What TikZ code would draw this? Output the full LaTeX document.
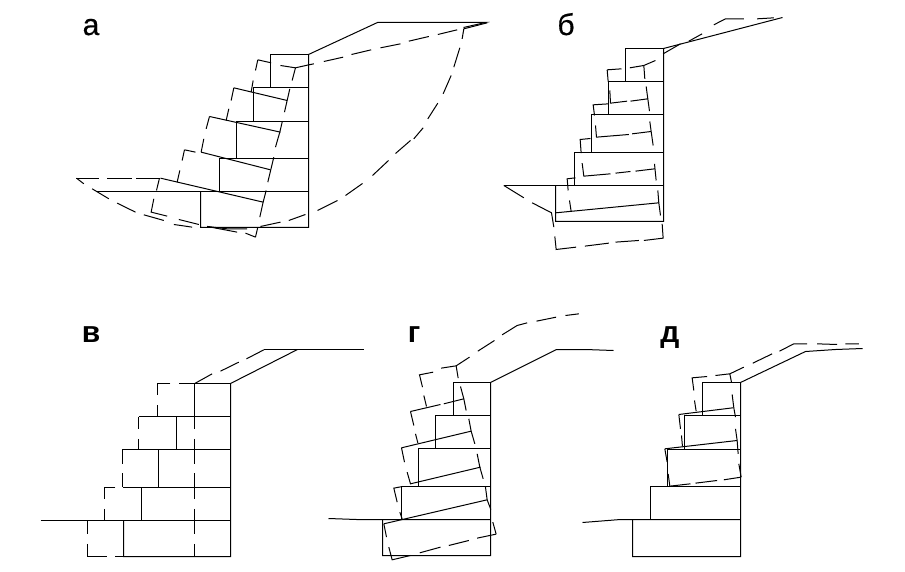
\documentclass[tikz,border=0pt]{standalone}
\usepackage{fontspec}
\setmainfont{Liberation Sans}
\newfontfamily\labelfont[FakeBold=0.5]{Liberation Sans}
\begin{document}
\begin{tikzpicture}[x=1pt,y=-1pt,
  solidline/.style={line width=1pt,black,line join=miter},
  dashline/.style={line width=1pt,black,line join=miter},
  panellabel/.style={font=\fontsize{30}{32}\selectfont\labelfont,text=black,inner sep=0pt,anchor=base},
  boldlabel/.style={font=\fontsize{30}{32}\selectfont\bfseries,text=black,inner sep=0pt,anchor=base}]
\useasboundingbox (0,0) rectangle (905,572);
\fill[white] (0,0) rectangle (905,572);
% labels
\node[panellabel] (la) at (91,35) {а};
\node[panellabel] (lb) at (566,35) {б};
\node[boldlabel] (lc) at (91,342) {в};
\node[boldlabel] (ld) at (414,342) {г};
\node[boldlabel] (le) at (670,342) {д};
\begin{scope}[shift={(0.5,0.5)}]
% panel a solid
\draw[solidline] (463,27)--(485,22)--(377,22)--(308,54)--(308,227)--(200,227)--(200,191);
\draw[solidline] (96,191)--(308,191);
\draw[solidline] (270,87)--(270,54)--(308,54);
\draw[solidline] (253,121)--(253,87)--(308,87);
\draw[solidline] (236,158)--(236,121)--(308,121);
\draw[solidline] (219,191)--(219,158)--(308,158);
% panel a dashed
\begin{scope}[shift={(60,10)},x=0.3333pt,y=-0.3333pt]
\draw[dashline] (48,503)--(115,503) (140,503)--(215,503) (228,503)--(300,503);
\draw[dashline] (48,503)--(70,520) (95,535)--(145,565) (170,578)--(225,605) (250,613)--(310,630) (340,642)--(395,650) (440,648)--(500,655)--(560,655) (600,648)--(660,635) (685,630)--(735,612);
\draw[dashline] (705,172)--(695,210) (688,235)--(672,305) (665,335)--(658,365)--(645,410) (640,440)--(622,515) (617,540)--(608,575)--(598,620) (592,650)--(585,680);
\draw[dashline] (592,148)--(585,180) (578,210)--(572,245) (592,148)--(632,157) (660,165)--(705,172)--(745,163);
\draw[dashline] (520,232)--(680,270) (520,232)--(512,270) (505,295)--(497,330);
\draw[dashline] (447,318)--(660,365) (447,318)--(437,355) (430,385)--(422,425);
\draw[dashline] (422,425)--(630,478) (372,418)--(405,425) (372,418)--(365,450) (358,480)--(350,515);
\draw[dashline] (300,503)--(608,575) (297,503)--(288,540) (280,565)--(272,605)--(320,617) (355,627)--(415,642) (440,648)--(530,665) (555,668)--(585,680);
\end{scope}
\begin{scope}[shift={(290,10)},x=0.3333pt,y=-0.3333pt]
\draw[dashline] (55,163)--(70,160) (100,153)--(158,140) (183,132)--(242,118) (270,112)--(330,100) (355,92)--(415,78) (442,72)--(500,58);
\draw[dashline] (370,385)--(398,352) (412,325)--(442,278) (458,250)--(482,195) (490,170)--(508,112) (515,85)--(520,55)--(590,37);
\end{scope}
\draw[dashline] (317,210)--(337,200) (345,195)--(362,183) (372,175)--(388,160) (395,153)--(410,140);
% panel b solid
\draw[solidline] (782,17)--(663,48)--(663,221)--(555,221)--(555,185);
\draw[solidline] (503,185)--(663,185);
\draw[solidline] (625,81)--(625,48)--(663,48);
\draw[solidline] (608,114)--(608,81)--(663,81);
\draw[solidline] (591,152)--(591,114)--(663,114);
\draw[solidline] (574,185)--(574,152)--(663,152);
% panel b dashed
\begin{scope}[shift={(495,10)},x=0.3333pt,y=-0.3333pt]
\draw[dashline] (503,130)--(555,100) (580,92)--(620,70) (655,43)--(690,25)--(745,25) (785,25)--(835,22);
\draw[dashline] (25,525)--(85,562) (110,577)--(168,607)--(175,650) (178,678)--(182,717)--(242,710) (268,707)--(340,698) (360,695)--(430,690) (445,690)--(503,683)--(500,640);
\draw[dashline] (181,607)--(490,577) (487,540)--(490,577)--(495,615) (477,460)--(482,510) (463,333)--(467,363)--(473,405) (452,228)--(457,265)--(462,302) (445,165)--(448,205);
\draw[dashline] (335,178)--(378,175) (403,172)--(445,165)--(480,150) (338,213)--(335,178) (343,240)--(345,278)--(395,272) (405,272)--(457,265);
\draw[dashline] (340,280)--(293,283)--(297,315) (300,345)--(303,380)--(400,372) (410,370)--(467,363);
\draw[dashline] (285,384)--(254,387)--(257,428) (260,458)--(265,497)--(345,490) (360,488)--(405,483) (420,482)--(478,475);
\draw[dashline] (240,502)--(215,505)--(218,540) (222,570)--(227,603);
\end{scope}
% panel c solid
\draw[solidline] (363,349)--(263,349);
\draw[solidline] (297,349)--(230,383)--(230,556)--(123,556)--(123,520);
\draw[solidline] (40,520)--(230,520);
\draw[solidline] (194,416)--(194,383)--(230,383);
\draw[solidline] (176,449)--(176,416)--(230,416);
\draw[solidline] (158,487)--(158,449)--(230,449);
\draw[solidline] (141,520)--(141,487)--(230,487);
\draw[solidline] (138,416)--(176,416);
\draw[solidline] (122,449)--(158,449);
\draw[solidline] (122,487)--(158,487);
% panel c dashed
\begin{scope}[shift={(30,320)},x=0.3333pt,y=-0.3333pt]
\draw[dashline] (491,190)--(545,160) (570,152)--(625,125) (648,115)--(700,88);
\draw[dashline] (420,190)--(380,190)--(380,225) (380,255)--(380,289) (447,190)--(491,190);
\draw[dashline] (325,289)--(325,325) (325,355)--(325,387);
\draw[dashline] (275,387)--(275,430) (275,458)--(275,501);
\draw[dashline] (255,501)--(223,501)--(223,535) (223,565)--(223,601);
\draw[dashline] (170,601)--(170,640) (170,670)--(170,709)--(230,709) (255,709)--(280,709);
\draw[dashline] (491,289)--(491,325) (491,355)--(491,430) (491,458)--(491,535) (491,565)--(491,640) (491,670)--(491,709);
\end{scope}
% panel d solid
\draw[solidline] (613,350)--(585,349)--(556,349)--(490,382)--(490,555)--(382,555)--(382,519);
\draw[solidline] (328,518)--(356,519)--(490,519);
\draw[solidline] (453,415)--(453,382)--(490,382);
\draw[solidline] (435,448)--(435,415)--(490,415);
\draw[solidline] (418,486)--(418,448)--(490,448);
\draw[solidline] (401,519)--(401,486)--(490,486);
% panel d dashed
\begin{scope}[shift={(320,305)},x=0.3333pt,y=-0.3333pt]
\draw[dashline] (407,181)--(447,155) (472,137)--(522,105) (545,88)--(590,60)--(620,52) (648,47)--(707,35) (735,30)--(775,25);
\draw[dashline] (338,200)--(297,208)--(306,245) (310,270)--(318,303) (362,188)--(407,181)--(413,218);
\draw[dashline] (420,243)--(430,280)--(437,315) (445,340)--(452,377)--(463,415) (470,445)--(478,485)--(488,520) (495,545)--(500,583)--(511,612) (517,650)--(527,686);
\draw[dashline] (270,318)--(360,297) (370,295)--(430,280) (270,318)--(280,360) (285,385)--(292,412);
\draw[dashline] (243,427)--(452,377) (243,427)--(252,470) (260,500)--(270,535)--(480,485);
\draw[dashline] (246,543)--(220,548)--(230,590) (238,620)--(246,643);
\draw[dashline] (190,655)--(500,583) (190,655)--(198,695) (205,725)--(215,763)--(270,750) (298,742)--(360,725) (385,720)--(445,705) (470,698)--(527,686);
\end{scope}
% panel e solid
\draw[solidline] (862,348)--(835,349)--(805,351)--(740,382)--(740,556)--(632,556)--(632,519);
\draw[solidline] (582,522)--(620,519)--(740,519);
\draw[solidline] (702,415)--(702,382)--(740,382);
\draw[solidline] (684,449)--(684,415)--(740,415);
\draw[solidline] (667,486)--(667,449)--(740,449);
\draw[solidline] (650,519)--(650,486)--(740,486);
% panel e dashed
\begin{scope}[shift={(575,320)},x=0.3333pt,y=-0.3333pt]
\draw[dashline] (463,160)--(505,140) (532,128)--(590,100) (612,92)--(655,70)--(695,70) (725,70)--(785,72) (810,70)--(850,70);
\draw[dashline] (395,168)--(350,172)--(355,210) (357,240)--(362,272) (420,165)--(463,160)--(468,185);
\draw[dashline] (470,222)--(475,262)--(480,290) (480,325)--(485,360)--(488,400) (490,430)--(497,470);
\draw[dashline] (310,282)--(472,262) (310,282)--(315,325) (318,345)--(321,378);
\draw[dashline] (268,385)--(485,360) (268,385)--(275,425) (278,460)--(283,497)--(345,490) (360,488)--(425,480) (445,478)--(497,470);
\end{scope}
\end{scope}
\end{tikzpicture}
\end{document}
